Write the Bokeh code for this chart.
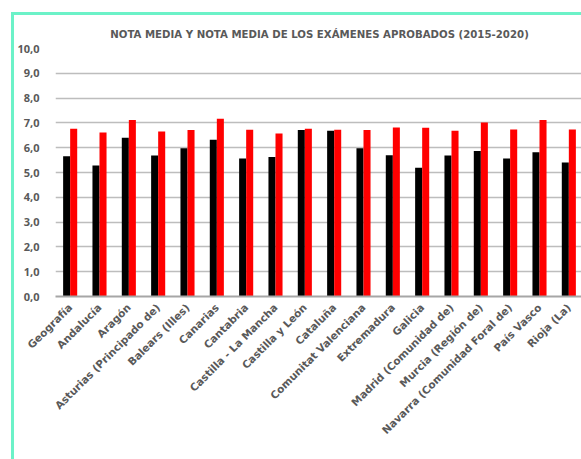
from math import pi
from bokeh.plotting import figure
from bokeh.models import FactorRange, Legend, LegendItem, FixedTicker, ColumnDataSource
from bokeh.transform import dodge
from bokeh.embed import file_html
from bokeh.resources import INLINE

categorias = [
    "Geografía", "Andalucía", "Aragón", "Asturias (Principado de)", "Balears (Illes)",
    "Canarias", "Cantabria", "Castilla - La Mancha", "Castilla y León", "Cataluña",
    "Comunitat Valenciana", "Extremadura", "Galicia", "Madrid (Comunidad de)",
    "Murcia (Región de)", "Navarra (Comunidad Foral de)", "País Vasco", "Rioja (La)",
]
nota_media = [5.66, 5.28, 6.40, 5.69, 5.98, 6.32, 5.56, 5.62, 6.71, 6.68,
              5.98, 5.70, 5.19, 5.69, 5.87, 5.56, 5.82, 5.40]
nota_aprobados = [6.76, 6.61, 7.12, 6.65, 6.71, 7.17, 6.72, 6.57, 6.76, 6.72,
                  6.71, 6.81, 6.80, 6.68, 7.02, 6.73, 7.12, 6.73]
y_ticks = [0, 1, 2, 3, 4, 5, 6, 7, 8, 9, 10]
y_tick_labels = ["0,0", "1,0", "2,0", "3,0", "4,0", "5,0", "6,0", "7,0", "8,0", "9,0", "10,0"]
serie_nombres = ["Nota media", "Nota media aprobados/as"]
serie_colores = ["#000000", "#ff0000"]
titulo = "NOTA MEDIA Y NOTA MEDIA DE LOS EXÁMENES APROBADOS (2015-2020)"

source = ColumnDataSource(dict(cat=categorias, media=nota_media, aprob=nota_aprobados))

GRAY = "#595959"
FONT = "DejaVu Sans"

p = figure(
    x_range=FactorRange(*categorias), y_range=(0, 10),
    frame_width=528, frame_height=248,
    output_backend="svg", toolbar_location=None,
    min_border_left=38, min_border_right=0, min_border_top=33, min_border_bottom=0,
    title=titulo,
)
p.styles = {
    "margin-left": "11px", "margin-top": "12px",
    "border-left": "3px solid #6cf2c8", "border-top": "3px solid #6cf2c8",
}
p.title.align = "center"
p.title.text_font = FONT
p.title.text_font_size = "10.2px"
p.title.text_font_style = "bold"
p.title.text_color = GRAY
p.title.standoff = 17

r1 = p.vbar(x=dodge("cat", -0.12, range=p.x_range), top="media", width=0.24,
            source=source, fill_color=serie_colores[0], line_color=None)
r2 = p.vbar(x=dodge("cat", 0.12, range=p.x_range), top="aprob", width=0.24,
            source=source, fill_color=serie_colores[1], line_color=None)

p.outline_line_color = None
p.xgrid.grid_line_color = None
p.ygrid.grid_line_color = "#bdbdbd"
p.ygrid.grid_line_width = 1.5
p.yaxis.ticker = FixedTicker(ticks=y_ticks)
p.yaxis.major_label_overrides = {t: l for t, l in zip(y_ticks, y_tick_labels)}
p.yaxis.axis_line_color = None
p.yaxis.major_tick_line_color = None
p.yaxis.minor_tick_line_color = None
p.yaxis.major_label_text_font = "Open Sans"
p.yaxis.major_label_text_font_size = "11px"
p.yaxis.major_label_text_font_style = "bold"
p.yaxis.major_label_text_color = GRAY
p.yaxis.major_label_standoff = 10

p.xaxis.axis_line_color = "#a6a6a6"
p.xaxis.axis_line_width = 2
p.xaxis.major_tick_line_color = None
p.xaxis.minor_tick_line_color = None
p.xaxis.major_label_orientation = pi / 4
p.xaxis.major_label_text_font = FONT
p.xaxis.major_label_text_font_size = "10.5px"
p.xaxis.major_label_text_font_style = "bold"
p.xaxis.major_label_text_color = GRAY
p.xaxis.major_label_standoff = 3
p.x_range.range_padding = 0

legend = Legend(
    items=[LegendItem(label=serie_nombres[0], renderers=[r1]),
           LegendItem(label=serie_nombres[1], renderers=[r2])],
    orientation="horizontal", location=(170, 12),
    label_text_font="Lato", label_text_font_size="8px", label_text_color=GRAY,
    label_height=8, glyph_width=6, glyph_height=6, spacing=12, label_standoff=2,
    border_line_color=None, background_fill_alpha=0,
    padding=0, margin=0,
)
p.add_layout(legend, "below")

open("out.html", "w").write(file_html(p, INLINE))
